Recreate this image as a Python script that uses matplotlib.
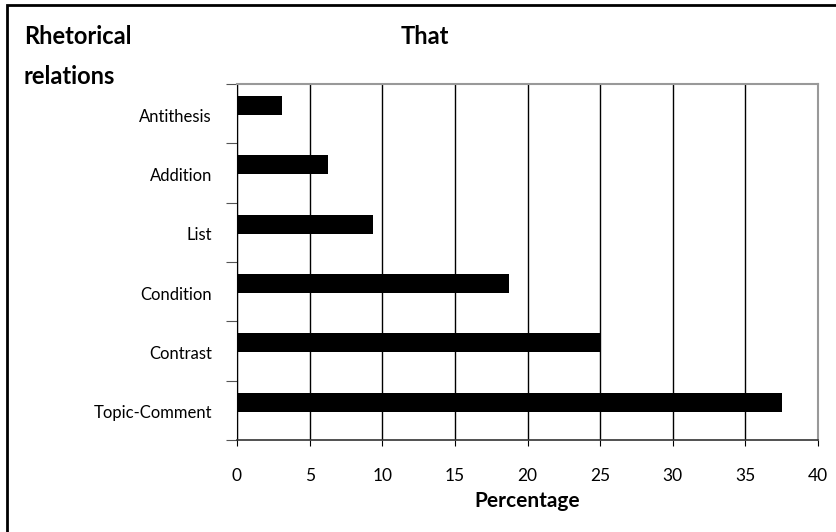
import matplotlib
matplotlib.use("Agg")
import matplotlib.pyplot as plt
from matplotlib.patches import Rectangle

plt.rcParams['font.family'] = ['Lato', 'DejaVu Sans']

# rhetorical relations, listed from bottom to top
relations = ['Topic-Comment', 'Contrast', 'Condition', 'List', 'Addition', 'Antithesis']
percent = [37.5, 25.0, 18.75, 9.375, 6.25, 3.125]
xticks = [0, 5, 10, 15, 20, 25, 30, 35, 40]

fig = plt.figure(figsize=(8.37, 5.32), dpi=100)
ax = fig.add_axes([237 / 837, 92 / 532, 581 / 837, 356 / 532])

ypos = list(range(len(relations)))
# bars sit a little above the middle of each slot
ax.barh([y + 0.135 for y in ypos], percent, height=0.32, color='black', zorder=3)

ax.set_xlim(0, 40)
ax.set_ylim(-0.5, len(relations) - 0.5)
ax.set_xticks(xticks)
ax.set_xticklabels([str(t) for t in xticks], fontsize=12.5)
ax.tick_params(axis='x', length=4, pad=16, color='black')
ax.xaxis.grid(True, color='black', linewidth=1, zorder=1)

# tick marks between categories, labels drawn separately
ax.set_yticks([y - 0.5 for y in range(len(relations) + 1)])
ax.set_yticklabels([])
ax.tick_params(axis='y', length=8, color='#555555')
for y, name in zip(ypos, relations):
    ax.text(-0.043, y - 0.05, name, transform=ax.get_yaxis_transform(),
            ha='right', va='center', fontsize=12)

for side in ['top', 'right']:
    ax.spines[side].set_color('#999999')
    ax.spines[side].set_linewidth(1.5)
ax.spines['left'].set_color('black')
ax.spines['bottom'].set_color('#333333')
ax.spines['bottom'].set_linewidth(1.2)

ax.set_xlabel('Percentage', fontsize=15, fontweight='bold', labelpad=5)

fig.text(425 / 837, 1 - 37 / 532, 'That', fontsize=17, fontweight='bold',
         ha='center', va='center')
fig.text(24 / 837, 1 - 37 / 532, 'Rhetorical', fontsize=17, fontweight='bold',
         ha='left', va='center')
fig.text(24 / 837, 1 - 77 / 532, 'relations', fontsize=17, fontweight='bold',
         ha='left', va='center')

# outer frame, running off the right and bottom edges
fig.patches.append(Rectangle((7 / 837, -0.05), 1.0, 1 - 5 / 532 + 0.05,
                             transform=fig.transFigure, fill=False,
                             edgecolor='black', linewidth=2))

fig.savefig('out.png', dpi=100)
